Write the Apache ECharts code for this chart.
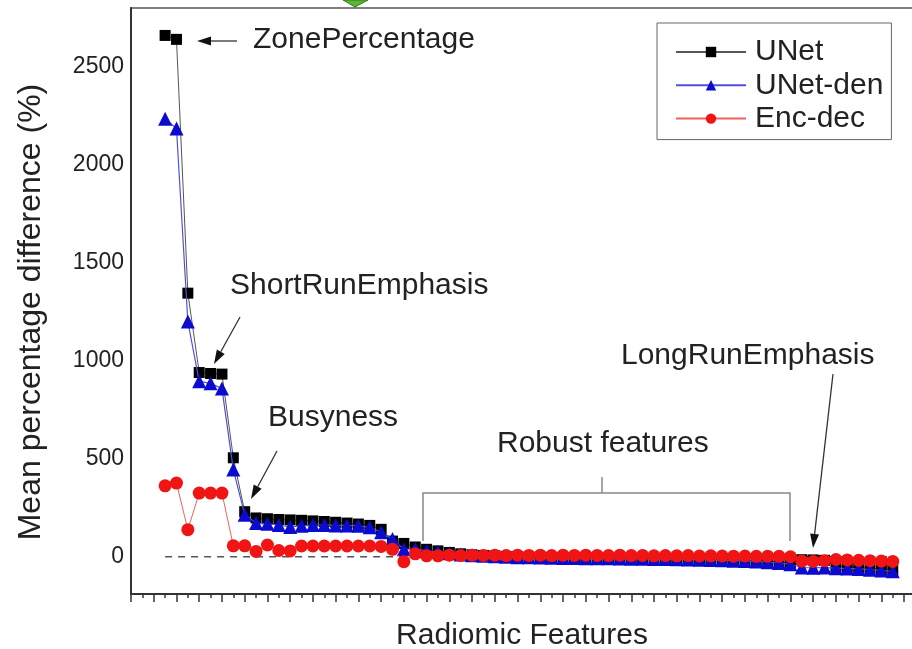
<!DOCTYPE html>
<html>
<head>
<meta charset="utf-8">
<script src="https://cdn.jsdelivr.net/npm/echarts@6/dist/echarts.min.js"></script>
<style>
  html, body { margin: 0; padding: 0; background: #fff; }
  #chart { width: 912px; height: 649px; }
</style>
</head>
<body>
<div id="chart"></div>
<script>
// Feature positions along the x axis (features sorted by difference)
const features = Array.from({ length: 65 }, (_, i) => i + 1);

// Mean percentage difference (%) per feature
const unet = [
  2660, 2640, 1345, 940, 935, 932, 505, 230, 198, 194,
  190, 188, 186, 183, 180, 176, 172, 167, 160, 140,
  80, 68, 50, 38, 30, 22, 15, 10, 7, 5,
  2, 0, -1, -2, -3, -4, -4, -5, -6, -6,
  -7, -8, -8, -9, -10, -11, -12, -13, -14, -16,
  -18, -20, -22, -25, -28, -30, -15, -16, -18, -50,
  -52, -55, -60, -64, -68
];
const unetDen = [
  2235, 2185, 1200, 895, 885, 858, 445, 215, 172, 168,
  162, 152, 158, 162, 162, 160, 160, 158, 150, 125,
  90, 38, 40, 30, 25, 18, 12, 8, 5, 3,
  0, -2, -3, -4, -5, -6, -6, -7, -8, -8,
  -9, -10, -10, -11, -12, -13, -14, -15, -16, -18,
  -20, -22, -24, -28, -32, -38, -55, -56, -55, -58,
  -60, -62, -66, -70, -74
];
const encDec = [
  362, 376, 138, 325, 325, 325, 56, 56, 27, 60,
  32, 30, 55, 55, 55, 55, 55, 55, 55, 53,
  38, -25, 15, 5, 5, 8, 6, 8, 7, 8,
  6, 8, 7, 8, 6, 8, 7, 8, 7, 6,
  8, 6, 7, 5, 6, 5, 6, 4, 5, 4,
  3, 4, 2, 3, 2, 0, -22, -24, -20, -14,
  -16, -18, -20, -22, -24
];

const seriesNames = ['UNet', 'UNet-den', 'Enc-dec'];
const yTickStep = 500;

const FONT = '"Liberation Sans", Arial, Helvetica, sans-serif';
const pair = vals => vals.map((v, i) => [features[i], v]);

// Annotation arrow: a thin shaft plus a filled head at (x2, y2)
function arrow(x1, y1, x2, y2) {
  const a = Math.atan2(y2 - y1, x2 - x1);
  const L = 14, W = 4.5;
  const bx = x2 - L * Math.cos(a), by = y2 - L * Math.sin(a);
  const px = -Math.sin(a) * W, py = Math.cos(a) * W;
  return [
    { type: 'line', silent: true, z: 20, shape: { x1: x1, y1: y1, x2: bx, y2: by },
      style: { stroke: '#333', lineWidth: 1.3 } },
    { type: 'polygon', silent: true, z: 20,
      shape: { points: [[x2, y2], [bx + px, by + py], [bx - px, by - py]] },
      style: { fill: '#111' } }
  ];
}
function label(text, x, y) {
  return { type: 'text', silent: true, z: 20, x: x, y: y,
    style: { text: text, font: '30px ' + FONT, fill: '#222', textVerticalAlign: 'middle' } };
}

const chart = echarts.init(document.getElementById('chart'), null, { renderer: 'canvas' });

const option = {
  animation: false,
  backgroundColor: '#fff',
  grid: {
    left: 131, top: 8, width: 782, height: 586,
    containLabel: false, outerBoundsMode: 'none',
    show: true, borderColor: '#555', borderWidth: 1.5
  },
  legend: {
    data: seriesNames,
    orient: 'vertical',
    left: 657, top: 23,
    padding: [14, 8, 6, 18],
    itemWidth: 70, itemHeight: 13, itemGap: 3.3,
    borderColor: '#666', borderWidth: 1,
    textStyle: { fontSize: 30, lineHeight: 30, color: '#222', fontFamily: FONT, padding: [0, 0, 0, 4] }
  },
  xAxis: {
    type: 'value', min: -2, max: 66.78, interval: 2,
    name: 'Radiomic Features', nameLocation: 'middle', nameGap: 27,
    nameTextStyle: { fontSize: 30, color: '#222', fontFamily: FONT, verticalAlign: 'top' },
    axisLine: { onZero: false, lineStyle: { color: '#333', width: 2 } },
    axisTick: { show: true, length: 8, lineStyle: { color: '#333', width: 1.5 } },
    minorTick: { show: true, splitNumber: 2, length: 4, lineStyle: { color: '#333', width: 1.5 } },
    axisLabel: { show: false },
    splitLine: { show: false }
  },
  yAxis: {
    type: 'value', min: -190, max: 2800, splitNumber: 6,
    name: 'Mean percentage difference (%)', nameLocation: 'middle', nameGap: 84,
    nameTextStyle: { fontSize: 32, color: '#222', fontFamily: FONT, padding: [0, 22, 0, 0] },
    axisLine: { show: true, onZero: false, lineStyle: { color: '#333', width: 2 } },
    axisTick: { show: false },
    axisLabel: {
      fontSize: 23, color: '#222', fontFamily: FONT, margin: 7,
      showMinLabel: false, showMaxLabel: false,
      formatter: v => (v % yTickStep === 0 ? String(v) : '')
    },
    splitLine: { show: false }
  },
  series: [
    {
      name: 'zero', type: 'line', silent: true, z: 1,
      data: [[features[0], 0], [features[features.length - 1], 0]],
      symbol: 'none',
      lineStyle: { color: '#555', width: 1.5, type: [7, 6] }
    },
    {
      name: seriesNames[0], type: 'line', z: 3, data: pair(unet),
      symbol: 'rect', symbolSize: 11, showAllSymbol: true,
      itemStyle: { color: '#000' },
      lineStyle: { color: '#555', width: 1 }
    },
    {
      name: seriesNames[1], type: 'line', z: 4, data: pair(unetDen),
      symbol: 'triangle', symbolSize: 14, showAllSymbol: true,
      itemStyle: { color: '#0b0bd0' },
      lineStyle: { color: '#5050e0', width: 1.2 }
    },
    {
      name: seriesNames[2], type: 'line', z: 5, data: pair(encDec),
      symbol: 'circle', symbolSize: 13, showAllSymbol: true,
      itemStyle: { color: '#f01414' },
      lineStyle: { color: '#f06060', width: 1 }
    }
  ],
  graphic: [
    // decoration at the top edge
    { type: 'polygon', silent: true, z: 30,
      shape: { points: [[343, 0], [368, 0], [355, 7]] },
      style: { fill: '#5bb532', stroke: '#2f7d1c', lineWidth: 1 } },
    label('ZonePercentage', 253, 40),
    ...arrow(237, 41, 197, 41),
    label('ShortRunEmphasis', 230, 286),
    ...arrow(240, 317, 214, 364),
    label('Busyness', 268, 418),
    ...arrow(277, 451, 251, 499),
    label('Robust features', 497, 444),
    { type: 'polyline', silent: true, z: 20,
      shape: { points: [[423, 541], [423, 493], [790, 493], [790, 541]] },
      style: { stroke: '#888', lineWidth: 1.5, fill: null } },
    { type: 'line', silent: true, z: 20, shape: { x1: 602, y1: 493, x2: 602, y2: 477 },
      style: { stroke: '#888', lineWidth: 1.5 } },
    label('LongRunEmphasis', 621, 356),
    ...arrow(833, 374, 813, 548)
  ]
};

chart.setOption(option);
</script>
</body>
</html>
